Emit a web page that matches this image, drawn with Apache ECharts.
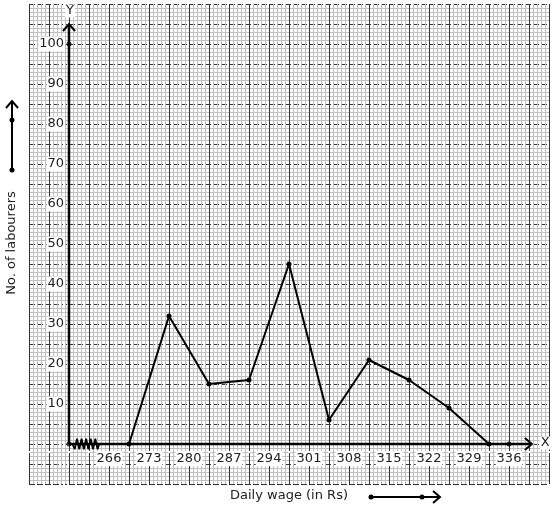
<!DOCTYPE html>
<html>
<head>
<meta charset="utf-8">
<script src="https://cdn.jsdelivr.net/npm/echarts@6/dist/echarts.min.js"></script>
<style>
  html, body { margin: 0; padding: 0; background: #fff; }
  #chart { width: 554px; height: 510px; }
</style>
</head>
<body>
<div id="chart"></div>
<script>
const FONT = '"DejaVu Sans", Verdana, sans-serif';

// class marks of the wage classes (266-273 -> 269.5 ...) and labourer counts
const classMarks = [269.5, 276.5, 283.5, 290.5, 297.5, 304.5, 311.5, 318.5, 325.5, 332.5];
const labourers = [0, 32, 15, 16, 45, 6, 21, 16, 9, 0];

// tick labels on the x axis (class limits) and on the y axis
const wageTicks = [266, 273, 280, 287, 294, 301, 308, 315, 322, 329, 336];
const countTicks = [10, 20, 30, 40, 50, 60, 70, 80, 90, 100];

// broken-axis origin, axis ends and the kink (zigzag) near the origin
const origin = [259, 0];
const xAxisEnd = [340, 0];
const yAxisEnd = [259, 105];
const extraDots = [[259, 0], [259, 100], [336, 0]];
const kinkX = [259.6, 260.0, 260.4, 260.8, 261.2, 261.6, 262.0, 262.4, 262.8, 263.2, 263.6, 264.0, 264.3];
const kinkY = [0, -1.3, 1.3, -1.3, 1.3, -1.3, 1.3, -1.3, 1.3, -1.3, 1.3, -1.3, 0];

const chart = echarts.init(document.getElementById('chart'), null, { renderer: 'canvas' });

const labelStyle = {
  color: '#222', fontSize: 13, fontFamily: FONT,
  backgroundColor: '#fff', padding: [1, 1]
};

chart.setOption({
  animation: false,
  backgroundColor: '#fff',
  grid: { left: 29, top: 4, width: 520, height: 480 },
  xAxis: {
    type: 'value', min: 252, max: 343, interval: 3.5, offset: -40,
    axisLine: { show: false }, axisTick: { show: false },
    axisLabel: Object.assign({}, labelStyle, {
      margin: 7,
      formatter: (v) => (wageTicks.includes(v) ? String(v) : '')
    }),
    splitLine: { lineStyle: { color: '#333', width: 1 } },
    minorTick: { show: false, splitNumber: 5 },
    minorSplitLine: { show: true, lineStyle: { color: '#c0c0c0', width: 1 } }
  },
  yAxis: {
    type: 'value', min: -10, max: 110, interval: 5, offset: -40,
    axisLine: { show: false }, axisTick: { show: false },
    axisLabel: Object.assign({}, labelStyle, {
      margin: 4,
      formatter: (v) => (countTicks.includes(v) ? String(v) : '')
    }),
    splitLine: { lineStyle: { color: '#333', width: 1, type: [6, 2] } },
    minorTick: { show: false, splitNumber: 5 },
    minorSplitLine: { show: true, lineStyle: { color: '#c0c0c0', width: 1 } }
  },
  series: [
    {
      type: 'line', data: [origin, xAxisEnd], symbol: 'none', z: 3,
      lineStyle: { color: '#000', width: 2.5 }
    },
    {
      type: 'line', data: [origin, yAxisEnd], symbol: 'none', z: 3,
      lineStyle: { color: '#000', width: 2.5 }
    },
    {
      type: 'line', data: kinkX.map((x, i) => [x, kinkY[i]]), symbol: 'none', z: 4,
      lineStyle: { color: '#000', width: 1.8 }
    },
    {
      type: 'line', data: classMarks.map((x, i) => [x, labourers[i]]), z: 5,
      symbol: 'circle', symbolSize: 5,
      itemStyle: { color: '#000' },
      lineStyle: { color: '#000', width: 2 }
    },
    {
      type: 'scatter', data: extraDots, symbol: 'circle', symbolSize: 5, z: 5,
      itemStyle: { color: '#000' }
    }
  ]
});

// arrowheads and the axis letters, placed from the axis ends
const yTip = chart.convertToPixel({ gridIndex: 0 }, yAxisEnd);
const xTip = chart.convertToPixel({ gridIndex: 0 }, xAxisEnd);
const stroke = { stroke: '#000', lineWidth: 2, fill: null };
const text = (t, x, y, extra, rotation) => ({
  type: 'text', x, y, z: 10, rotation: rotation || 0,
  style: Object.assign({ text: t, fill: '#222', font: '13px ' + FONT, align: 'center', verticalAlign: 'middle' }, extra || {})
});

chart.setOption({
  graphic: [
    { type: 'polyline', z: 10, shape: { points: [[yTip[0] - 6, yTip[1] + 7], yTip, [yTip[0] + 6, yTip[1] + 7]] }, style: stroke },
    { type: 'polyline', z: 10, shape: { points: [[xTip[0] - 7, xTip[1] - 6], xTip, [xTip[0] - 7, xTip[1] + 6]] }, style: stroke },
    text('Y', yTip[0] + 1, yTip[1] - 13, { backgroundColor: '#fff', padding: [0, 1] }),
    text('X', xTip[0] + 8, xTip[1] - 1, { align: 'left', backgroundColor: '#fff', padding: [0, 1] }),

    // y axis title with its arrow
    text('No. of labourers', 12, 243, null, Math.PI / 2),
    { type: 'line', z: 10, shape: { x1: 12, y1: 170, x2: 12, y2: 101 }, style: { stroke: '#000', lineWidth: 2 } },
    { type: 'polyline', z: 10, shape: { points: [[6, 108], [12, 101], [18, 108]] }, style: stroke },
    { type: 'circle', z: 11, shape: { cx: 12, cy: 170, r: 2.5 }, style: { fill: '#000' } },
    { type: 'circle', z: 11, shape: { cx: 12, cy: 120, r: 2.5 }, style: { fill: '#000' } },

    // x axis title with its arrow
    text('Daily wage (in Rs)', 289, 496),
    { type: 'line', z: 10, shape: { x1: 371, y1: 497, x2: 440, y2: 497 }, style: { stroke: '#000', lineWidth: 2 } },
    { type: 'polyline', z: 10, shape: { points: [[433, 491], [440, 497], [433, 503]] }, style: stroke },
    { type: 'circle', z: 11, shape: { cx: 371, cy: 497, r: 2.5 }, style: { fill: '#000' } },
    { type: 'circle', z: 11, shape: { cx: 422, cy: 497, r: 2.5 }, style: { fill: '#000' } }
  ]
});
</script>
</body>
</html>
